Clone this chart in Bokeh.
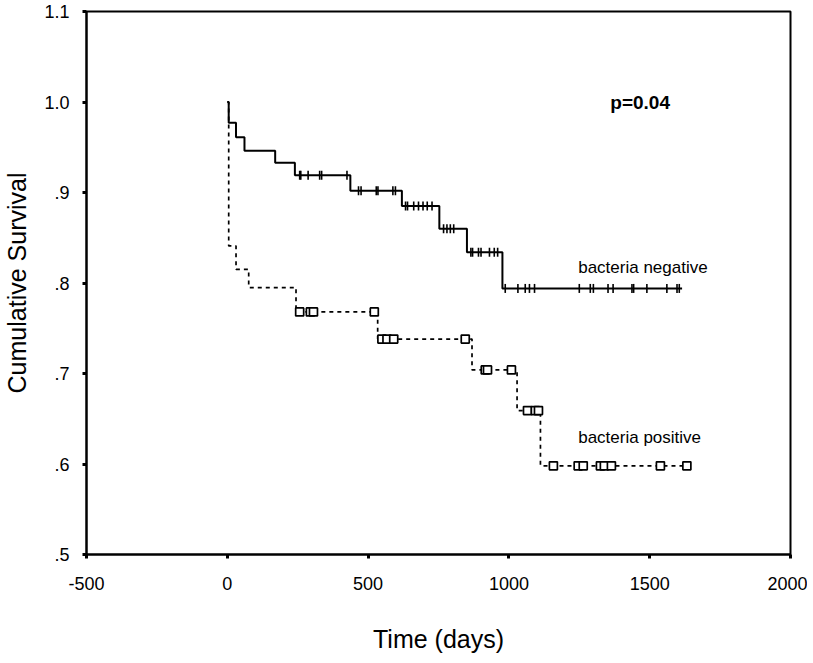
import numpy as np
from bokeh.plotting import figure
from bokeh.models import Range1d, FixedTicker, Label
from bokeh.embed import file_html
from bokeh.resources import INLINE

# ---- data ----
# bacteria negative: event times (days) and survival after each step
neg_times = [0, 5, 31, 61, 170, 240, 437, 620, 753, 851, 977, 1615]
neg_surv = [1.0, 0.977, 0.961, 0.946, 0.933, 0.919, 0.902, 0.885, 0.860, 0.834, 0.794, 0.794]
neg_censor = [257, 261, 287, 328, 335, 425,
              466, 475, 529, 535, 588, 597,
              633, 640, 662, 679, 695, 710, 727,
              768, 780, 792, 804,
              865, 871, 892, 901, 931, 948, 960,
              987, 1032, 1058, 1073, 1091, 1250, 1289, 1300, 1352, 1370,
              1437, 1443, 1490, 1561, 1597, 1605]

# bacteria positive
pos_times = [0, 5, 31, 76, 244, 534, 869, 1029, 1112, 1637]
pos_surv = [1.0, 0.841, 0.815, 0.795, 0.768, 0.738, 0.704, 0.659, 0.598, 0.598]
pos_censor = [257, 295, 306, 522,
              549, 567, 591, 845,
              916, 924, 1009,
              1066, 1094, 1105,
              1158, 1246, 1264, 1325, 1339, 1364, 1538, 1632]

x_ticks = [-500, 0, 500, 1000, 1500, 2000]
x_tick_labels = ["-500", "0", "500", "1000", "1500", "2000"]
y_ticks = [0.5, 0.6, 0.7, 0.8, 0.9, 1.0, 1.1]
y_tick_labels = [".5", ".6", ".7", ".8", ".9", "1.0", "1.1"]

label_neg = "bacteria negative"
label_pos = "bacteria positive"
p_text = "p=0.04"


def surv_at(times, surv, t):
    idx = np.searchsorted(np.array(times), np.array(t), side="right") - 1
    return np.array(surv)[idx]


FONT = "Liberation Sans"

p = figure(frame_width=704, frame_height=543, output_backend="svg", toolbar_location=None,
           x_range=Range1d(-500, 2000), y_range=Range1d(0.5, 1.1),
           min_border_left=80, min_border_right=17, min_border_top=11, min_border_bottom=96,
           background_fill_color="white", border_fill_color="white")
p.xgrid.visible = False
p.ygrid.visible = False
p.outline_line_color = "black"
p.outline_line_width = 2

# curves
p.step(neg_times, neg_surv, mode="after", line_color="black", line_width=2)
p.step(pos_times, pos_surv, mode="after", line_color="black", line_width=1.7, line_dash="4 4")

# censor marks
p.scatter(neg_censor, surv_at(neg_times, neg_surv, neg_censor), marker="dash", angle=np.pi / 2,
          size=9, line_color="black", line_width=1.6)
p.scatter(pos_censor, surv_at(pos_times, pos_surv, pos_censor), marker="square",
          size=8, line_color="black", fill_color="white", line_width=1.7)

# axes
for ax in (p.xaxis[0], p.yaxis[0]):
    ax.axis_line_width = 2
    ax.major_tick_line_width = 3
    ax.major_tick_in = 0
    ax.major_tick_out = 4
    ax.minor_tick_line_color = None
    ax.major_label_text_font = FONT
    ax.major_label_text_font_size = "18px"
    ax.major_label_text_color = "black"
    ax.axis_label_text_font = FONT
    ax.axis_label_text_font_style = "normal"
    ax.axis_label_text_font_size = "25px"
    ax.axis_label_text_color = "black"

p.xaxis.ticker = FixedTicker(ticks=x_ticks)
p.yaxis.ticker = FixedTicker(ticks=y_ticks)
p.xaxis.major_label_overrides = {t: s for t, s in zip(x_ticks, x_tick_labels)}
p.yaxis.major_label_overrides = {t: s for t, s in zip(y_ticks, y_tick_labels)}
p.xaxis.axis_label = "Time (days)"
p.yaxis.axis_label = "Cumulative Survival"
p.xaxis.major_label_standoff = 18
p.yaxis.major_label_standoff = 13
p.xaxis.axis_label_standoff = 32
p.yaxis.axis_label_standoff = 10

# annotations
p.add_layout(Label(x=1246, y=0.817, text=label_neg, text_font=FONT, text_font_size="17px",
                   text_baseline="middle", text_color="black"))
p.add_layout(Label(x=1246, y=0.629, text=label_pos, text_font=FONT, text_font_size="17px",
                   text_baseline="middle", text_color="black"))
p.add_layout(Label(x=1360, y=1.0, text=p_text, text_font=FONT, text_font_size="19px",
                   text_font_style="bold", text_baseline="middle", text_color="black"))

open("out.html", "w").write(file_html(p, INLINE))
